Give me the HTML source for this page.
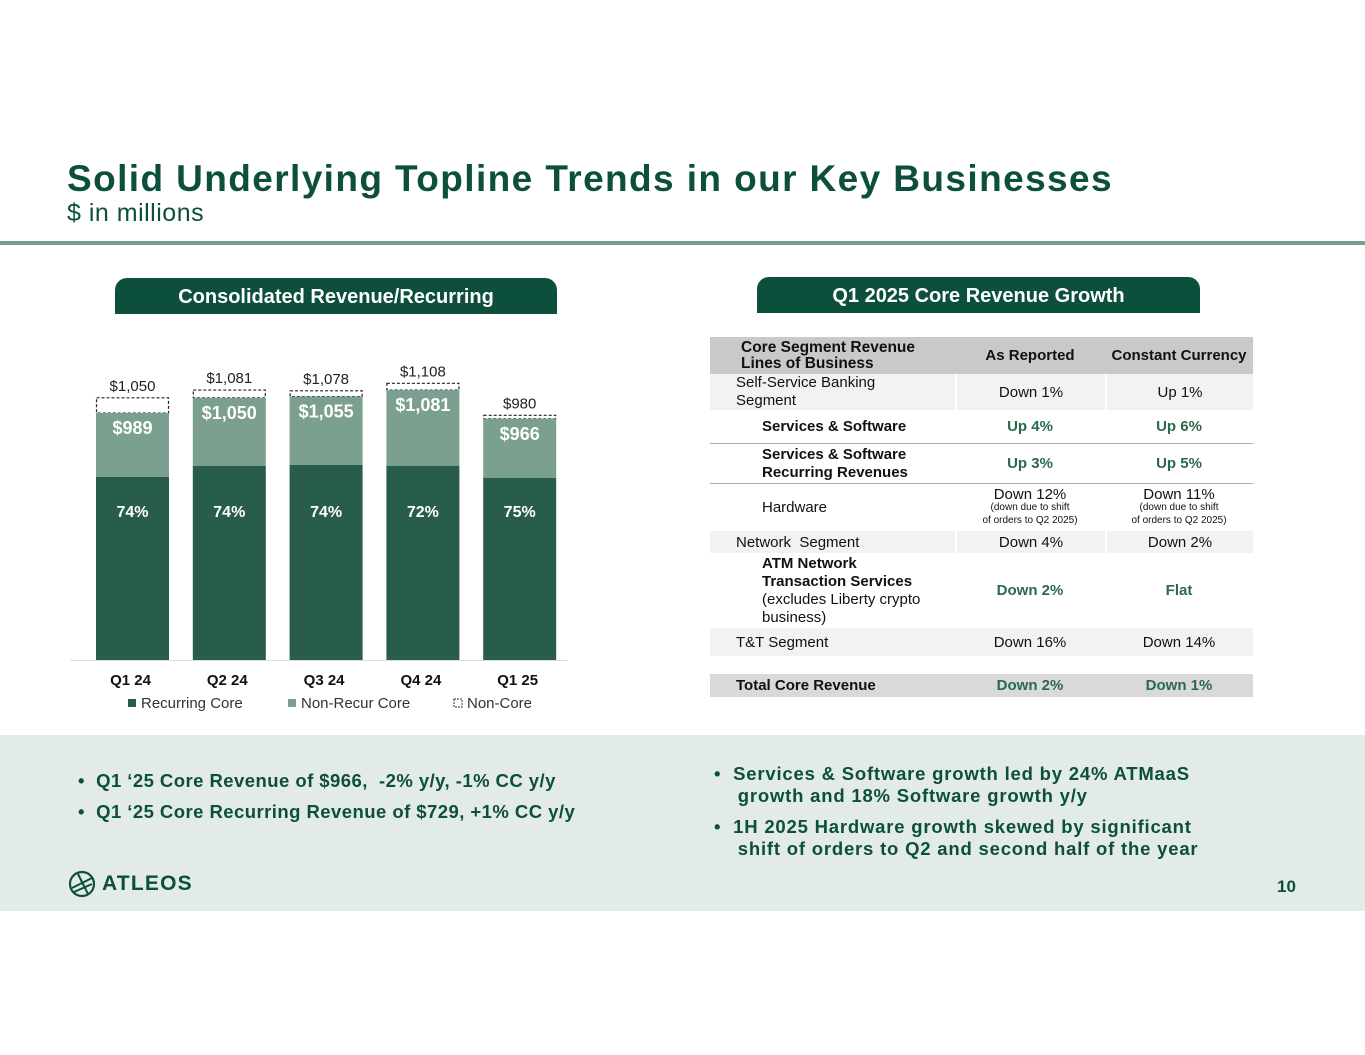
<!DOCTYPE html>
<html><head><meta charset="utf-8">
<style>
*{margin:0;padding:0;box-sizing:border-box}
body{width:1365px;height:1055px;background:#fff;font-family:"Liberation Sans",sans-serif;position:relative;overflow:hidden;color:#111}
.abs{position:absolute}
.title{left:67px;top:158px;font-size:37px;font-weight:bold;color:#0b4f3c;letter-spacing:1.4px}
.sub{left:67px;top:199px;font-size:25px;color:#0b4f3c;letter-spacing:0.5px}
.rule{left:0;top:241px;width:1365px;height:4px;background:#74a08a}
.tab{height:36px;background:#0b4f3c;color:#fff;font-weight:bold;font-size:20px;text-align:center;line-height:38px;border-radius:12px 12px 0 0}
table{border-collapse:separate;border-spacing:0;position:absolute;left:710px;top:337px;width:543px;font-size:15px}
td{padding:0;vertical-align:middle}
.c2,.c3{text-align:center}
.g{color:#2a6a4a;font-weight:bold}
.band{left:0;top:735px;width:1365px;height:176px;background:#e3ebe7}
.bl{font-size:18.5px;font-weight:bold;color:#0b4f3c;line-height:22px}
</style></head><body>
<div class="abs title">Solid Underlying Topline Trends in our Key Businesses</div>
<div class="abs sub">$ in millions</div>
<div class="abs rule"></div>
<div class="abs tab" style="left:115px;top:278px;width:442px">Consolidated Revenue/Recurring</div>
<div class="abs tab" style="left:757px;top:277px;width:443px">Q1 2025 Core Revenue Growth</div>

<svg class="abs" style="left:0;top:0" width="700" height="735" id="chart"></svg>

<table>
<colgroup><col style="width:245px"><col style="width:150px"><col style="width:148px"></colgroup>
<tr style="height:37px;background:#c9c9c9;font-weight:bold"><td style="padding-left:31px;line-height:16px;font-size:15.5px">Core Segment Revenue<br>Lines of Business</td><td class="c2">As Reported</td><td class="c3">Constant Currency</td></tr>
<tr style="height:36px"><td style="background:#f2f2f2;padding-left:26px;line-height:18px">Self-Service Banking<br>Segment</td><td class="c2" style="background:#f2f2f2;border-left:2px solid #fff">Down 1%</td><td class="c3" style="background:#f2f2f2;border-left:2px solid #fff">Up 1%</td></tr>
<tr style="height:34px"><td style="padding-left:52px;font-weight:bold;border-bottom:1px solid #aaa">Services &amp; Software</td><td class="c2 g" style="border-bottom:1px solid #aaa">Up 4%</td><td class="c3 g" style="border-bottom:1px solid #aaa">Up 6%</td></tr>
<tr style="height:40px"><td style="padding-left:52px;font-weight:bold;line-height:18px;border-bottom:1px solid #aaa">Services &amp; Software<br>Recurring Revenues</td><td class="c2 g" style="border-bottom:1px solid #aaa">Up 3%</td><td class="c3 g" style="border-bottom:1px solid #aaa">Up 5%</td></tr>
<tr style="height:47px"><td style="padding-left:52px">Hardware</td><td class="c2" style="line-height:11px">Down 12%<br><span style="font-size:10px">(down due to shift<br>of orders to Q2 2025)</span></td><td class="c3" style="line-height:11px">Down 11%<br><span style="font-size:10px">(down due to shift<br>of orders to Q2 2025)</span></td></tr>
<tr style="height:22px"><td style="background:#f2f2f2;padding-left:26px">Network&nbsp; Segment</td><td class="c2" style="background:#f2f2f2;border-left:2px solid #fff">Down 4%</td><td class="c3" style="background:#f2f2f2;border-left:2px solid #fff">Down 2%</td></tr>
<tr style="height:75px"><td style="padding-left:52px;line-height:18px"><b>ATM Network<br>Transaction Services</b><br>(excludes Liberty crypto<br>business)</td><td class="c2 g">Down 2%</td><td class="c3 g">Flat</td></tr>
<tr style="height:28px;background:#f2f2f2"><td style="padding-left:26px">T&amp;T Segment</td><td class="c2">Down 16%</td><td class="c3">Down 14%</td></tr>
<tr style="height:18px"><td></td><td></td><td></td></tr>
<tr style="height:23px;background:#d9d9d9"><td style="padding-left:26px;font-weight:bold">Total Core Revenue</td><td class="c2 g">Down 2%</td><td class="c3 g">Down 1%</td></tr>
</table>

<div class="abs band"></div>
<div class="abs bl" style="left:78px;top:770px;letter-spacing:0.45px">•&nbsp;&nbsp;Q1 ‘25 Core Revenue of $966,&nbsp; -2% y/y, -1% CC y/y</div>
<div class="abs bl" style="left:78px;top:801px;letter-spacing:0.45px">•&nbsp;&nbsp;Q1 ‘25 Core Recurring Revenue of $729, +1% CC y/y</div>
<div class="abs bl" style="left:714px;top:763px;letter-spacing:0.8px">•&nbsp;&nbsp;Services &amp; Software growth led by 24% ATMaaS<br>&nbsp;&nbsp;&nbsp;&nbsp;growth and 18% Software growth y/y</div>
<div class="abs bl" style="left:714px;top:816px;letter-spacing:0.8px">•&nbsp;&nbsp;1H 2025 Hardware growth skewed by significant<br>&nbsp;&nbsp;&nbsp;&nbsp;shift of orders to Q2 and second half of the year</div>
<div class="abs" style="left:68px;top:870px">
<svg width="28" height="28" viewBox="0 0 28 28"><circle cx="14" cy="14" r="12" fill="none" stroke="#0b4f3c" stroke-width="2.2"/><path d="M4 18 L24 8 M6 22 L24 14 M10 4 L20 24" stroke="#0b4f3c" stroke-width="2" fill="none"/></svg>
<span style="position:absolute;left:34px;top:2px;font-size:21px;font-weight:bold;color:#0b4f3c;letter-spacing:1.2px">ATLEOS</span></div>
<div class="abs" style="left:1277px;top:877px;font-size:17px;font-weight:bold;color:#0b4f3c">10</div>

<script>
const categories=["Q1 24","Q2 24","Q3 24","Q4 24","Q1 25"];
const recurring=[733,777,781,778,729];
const coreTotal=[989,1050,1055,1081,966];
const total=[1050,1081,1078,1108,980];
const pctLabels=["74%","74%","74%","72%","75%"];
const NS="http://www.w3.org/2000/svg";
const svg=document.getElementById('chart');
const base=660,scale=0.2497,x0=96,step=96.8,bw=73;
const y=v=>base-v*scale;
const xb=i=>x0+i*step;
function mk(t,a,txt){const e=document.createElementNS(NS,t);for(const k in a)e.setAttribute(k,a[k]);if(txt!=null)e.textContent=txt;svg.appendChild(e);return e;}
const ax=mk('line',{x1:70,y1:base+0.5,x2:568,y2:base+0.5,stroke:'#ddd','stroke-width':1});


categories.forEach((c,i)=>{
  const x=xb(i),cx=x+bw/2;
  const nc=mk('rect',{x:x+0.5,y:y(total[i]),width:bw-1,height:y(coreTotal[i])-y(total[i]),fill:'none',stroke:'#222','stroke-width':1.2,'stroke-dasharray':'3,2'});
  
  
  const nr=mk('rect',{x:x,y:y(coreTotal[i]),width:bw,height:y(recurring[i])-y(coreTotal[i]),fill:'#7ca08f'});
  
  
  const r=mk('rect',{x:x,y:y(recurring[i]),width:bw,height:base-y(recurring[i]),fill:'#285c4c'});
  
  
  const t1=mk('text',{x:cx,y:y(total[i])-7,'text-anchor':'middle','font-size':15,fill:'#222'},'$'+total[i].toLocaleString('en-US'));
  
  
  const t2=mk('text',{x:cx,y:y(coreTotal[i])+21,'text-anchor':'middle','font-size':18,'font-weight':'bold',fill:'#fff'},'$'+coreTotal[i].toLocaleString('en-US'));
  
  
  const t3=mk('text',{x:cx,y:517,'text-anchor':'middle','font-size':16,'font-weight':'bold',fill:'#fff'},pctLabels[i]);
  
  
  const t4=mk('text',{x:cx-2,y:685,'text-anchor':'middle','font-size':15,'font-weight':'bold',fill:'#111'},c);
  
  
});
const leg=[['Recurring Core',128,'#285c4c',false],['Non-Recur Core',288,'#7ca08f',false],['Non-Core',454,'none',true]];
leg.forEach((l,i)=>{
  const s=mk('rect',{x:l[1],y:699,width:8,height:8,fill:l[2],stroke:l[3]?'#333':'none','stroke-dasharray':'2,1','stroke-width':1});
  
  
  const t=mk('text',{x:l[1]+13,y:708,'font-size':15,fill:'#333'},l[0]);
  
  
});
</script>
</body></html>
